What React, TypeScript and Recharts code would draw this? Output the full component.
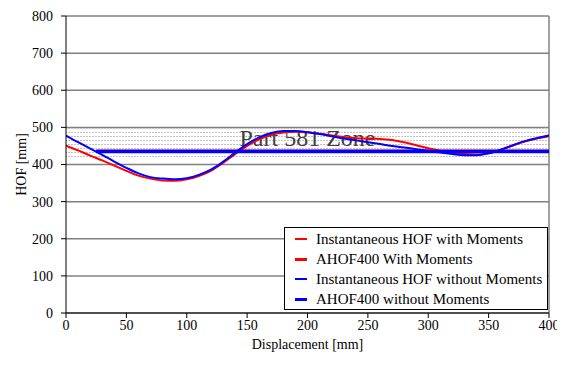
import {
  LineChart,
  Line,
  XAxis,
  YAxis,
  CartesianGrid,
  ReferenceArea,
  ReferenceLine,
  Legend,
} from "recharts";

const DISPLACEMENT = [
  0, 10, 20, 30, 40, 50, 60, 70, 80, 90, 100, 110, 120, 130, 140, 150, 160,
  170, 180, 190, 200, 210, 220, 230, 240, 250, 260, 270, 280, 290, 300, 310,
  320, 330, 340, 350, 360, 370, 380, 390, 400,
];

const HOF_WITH_MOMENTS = [
  451, 438, 424, 411, 397, 383, 370, 362, 357, 356, 360, 369, 383, 404, 428,
  450, 468, 480, 486, 488, 487, 483, 478, 474, 471, 470, 469, 466, 460, 452,
  444, 437, 431, 428, 427, 430, 439, 451, 462, 470, 476,
];

const HOF_WITHOUT_MOMENTS = [
  478, 460, 443, 426, 408, 391, 376, 366, 362, 360, 363, 372, 386, 407, 432,
  455, 473, 485, 490, 490, 487, 482, 476, 470, 465, 460, 455, 450, 446, 441,
  437, 432, 428, 425, 425, 430, 440, 452, 463, 471, 478,
];

const AHOF_RANGE = [25, 400];
const AHOF400_WITH_MOMENTS = 436;
const AHOF400_WITHOUT_MOMENTS = 435;

const ZONE = [418, 506];
const ZONE_LABEL = "Part 581 Zone";

const SERIES_NAMES = [
  "Instantaneous HOF with Moments",
  "AHOF400 With Moments",
  "Instantaneous HOF without Moments",
  "AHOF400 without Moments",
];

const X_TICKS = [0, 50, 100, 150, 200, 250, 300, 350, 400];
const Y_TICKS = [0, 100, 200, 300, 400, 500, 600, 700, 800];

const FONT = '"Liberation Serif", "Times New Roman", serif';

const withMoments = DISPLACEMENT.map((x, i) => ({ x, y: HOF_WITH_MOMENTS[i] }));
const withoutMoments = DISPLACEMENT.map((x, i) => ({
  x,
  y: HOF_WITHOUT_MOMENTS[i],
}));
const ahofWith = AHOF_RANGE.map((x) => ({ x, y: AHOF400_WITH_MOMENTS }));
const ahofWithout = AHOF_RANGE.map((x) => ({ x, y: AHOF400_WITHOUT_MOMENTS }));

// legend sample thickness per series
const LEGEND_WIDTHS: Record<string, number> = {
  [SERIES_NAMES[0]]: 2,
  [SERIES_NAMES[1]]: 3,
  [SERIES_NAMES[2]]: 2,
  [SERIES_NAMES[3]]: 3,
};

function LegendBox({ payload }: any) {
  const items = [...(payload || [])].sort(
    (a: any, b: any) =>
      SERIES_NAMES.indexOf(a.value) - SERIES_NAMES.indexOf(b.value)
  );
  return (
    <div
      style={{
        width: 264,
        height: 83,
        boxSizing: "border-box",
        border: "1px solid #000",
        background: "#fff",
        fontFamily: FONT,
        fontSize: 15,
        color: "#000",
        paddingTop: 1,
      }}
    >
      {items.map((entry: any) => (
        <div
          key={entry.value}
          style={{ display: "flex", alignItems: "center", height: 20 }}
        >
          <span
            style={{
              display: "inline-block",
              width: 12,
              height: LEGEND_WIDTHS[entry.value] || 2,
              background: entry.color,
              marginLeft: 10,
              marginRight: 9,
            }}
          />
          <span style={{ whiteSpace: "nowrap" }}>{entry.value}</span>
        </div>
      ))}
    </div>
  );
}

export default function App() {
  return (
    <div style={{ width: 557, height: 357, fontFamily: FONT }}>
      <LineChart
        width={557}
        height={357}
        margin={{ top: 8, right: 16, left: 0, bottom: 0 }}
      >
        <defs>
          <pattern
            id="zoneDots"
            width="3"
            height="4"
            patternUnits="userSpaceOnUse"
          >
            <rect x="0" y="0" width="2" height="1" fill="#c4c4c4" />
          </pattern>
        </defs>
        <ReferenceArea
          y1={ZONE[0]}
          y2={ZONE[1]}
          x1={0}
          x2={400}
          fill="url(#zoneDots)"
          fillOpacity={1}
          stroke="none"
          label={{
            content: (props: any) => {
              const vb = props.viewBox || {};
              return (
                <text
                  x={vb.x + vb.width / 2}
                  y={vb.y + vb.height / 2 + 5}
                  textAnchor="middle"
                  fill="#404040"
                  fontSize={24}
                  fontFamily={FONT}
                >
                  {ZONE_LABEL}
                </text>
              );
            },
          }}
        />
        <CartesianGrid vertical={false} stroke="#808080" strokeWidth={1.5} />
        <ReferenceLine x={400} stroke="#808080" strokeWidth={1.5} />
        <XAxis
          type="number"
          dataKey="x"
          domain={[0, 400]}
          ticks={X_TICKS}
          allowDataOverflow
          stroke="#000"
          tickSize={5}
          tickMargin={2}
          height={52}
          tick={{ fill: "#000", fontSize: 14, fontFamily: FONT }}
          label={{
            content: (props: any) => {
              const vb = props.viewBox || {};
              return (
                <text
                  x={vb.x + vb.width / 2}
                  y={341}
                  textAnchor="middle"
                  fill="#000"
                  fontSize={14}
                  fontFamily={FONT}
                >
                  Displacement [mm]
                </text>
              );
            },
          }}
        />
        <YAxis
          type="number"
          domain={[0, 800]}
          ticks={Y_TICKS}
          allowDataOverflow
          stroke="#000"
          tickSize={5}
          tickMargin={8}
          width={58}
          tick={{ fill: "#000", fontSize: 14, fontFamily: FONT }}
          label={{
            content: (props: any) => {
              const vb = props.viewBox || {};
              const cy = vb.y + vb.height / 2;
              return (
                <text
                  x={18}
                  y={cy}
                  transform={`rotate(-90 18 ${cy})`}
                  textAnchor="middle"
                  fill="#000"
                  fontSize={14}
                  fontFamily={FONT}
                >
                  HOF [mm]
                </text>
              );
            },
          }}
        />
        <Legend
          layout="horizontal"
          verticalAlign="middle"
          align="center"
          content={<LegendBox />}
          wrapperStyle={{ left: 276, top: 219, width: 264, height: 83 }}
        />
        <Line
          data={withMoments}
          dataKey="y"
          name={SERIES_NAMES[0]}
          type="monotone"
          stroke="#ff0000"
          strokeWidth={2}
          dot={false}
          isAnimationActive={false}
        />
        <Line
          data={ahofWith}
          dataKey="y"
          name={SERIES_NAMES[1]}
          type="linear"
          stroke="#ff0000"
          strokeWidth={3.5}
          dot={false}
          isAnimationActive={false}
        />
        <Line
          data={withoutMoments}
          dataKey="y"
          name={SERIES_NAMES[2]}
          type="monotone"
          stroke="#0000ff"
          strokeWidth={2}
          dot={false}
          isAnimationActive={false}
        />
        <Line
          data={ahofWithout}
          dataKey="y"
          name={SERIES_NAMES[3]}
          type="linear"
          stroke="#0000ff"
          strokeWidth={3.5}
          dot={false}
          isAnimationActive={false}
        />
      </LineChart>
    </div>
  );
}
